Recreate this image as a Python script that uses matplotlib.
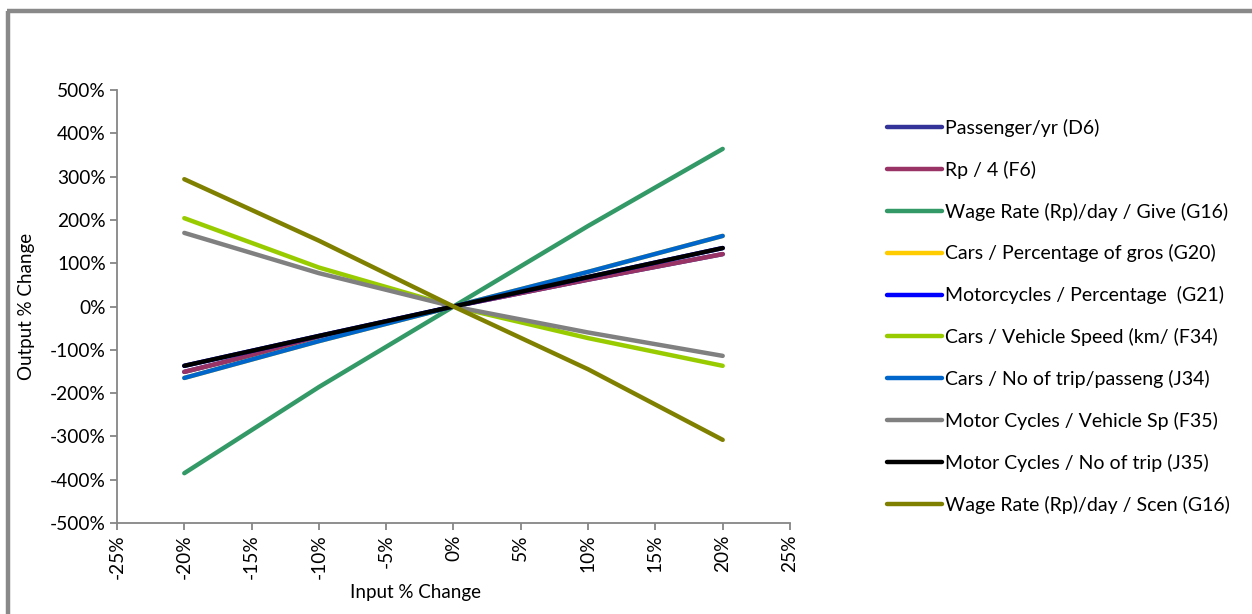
import matplotlib
matplotlib.use("Agg")
import matplotlib.pyplot as plt
from matplotlib.lines import Line2D
from matplotlib.ticker import FuncFormatter, MultipleLocator

# Input change (%) at which each output was evaluated
input_change = [-20, -10, 0, 10, 20]

# Output change (%) per tested parameter
passenger_yr = [-151, -74, 0, 62, 121]
rp_4 = [-151, -74, 0, 62, 121]
wage_give = [-385, -186, 0, 186, 364]
cars_pct_gros = [-165, -80, 0, 80, 163]
moto_pct = [-137, -68, 0, 68, 135]
cars_speed = [204, 90, 0, -73, -137]
cars_trips = [-165, -80, 0, 80, 163]
moto_speed = [170, 77, 0, -60, -114]
moto_trips = [-137, -68, 0, 68, 135]
wage_scen = [294, 152, 0, -145, -308]

labels = [
    "Passenger/yr (D6)",
    "Rp / 4 (F6)",
    "Wage Rate (Rp)/day / Give (G16)",
    "Cars / Percentage of gros (G20)",
    "Motorcycles / Percentage  (G21)",
    "Cars / Vehicle Speed (km/ (F34)",
    "Cars / No of trip/passeng (J34)",
    "Motor Cycles / Vehicle Sp (F35)",
    "Motor Cycles / No of trip (J35)",
    "Wage Rate (Rp)/day / Scen (G16)",
]
series = [passenger_yr, rp_4, wage_give, cars_pct_gros, moto_pct,
          cars_speed, cars_trips, moto_speed, moto_trips, wage_scen]
colors = ["#333399", "#993366", "#339966", "#FFCC00", "#0000FF",
          "#99CC00", "#0066CC", "#808080", "#000000", "#808000"]

plt.rcParams["font.family"] = ["Lato", "DejaVu Sans"]

fig = plt.figure(figsize=(12.52, 6.14), dpi=100)
ax = fig.add_axes([117 / 1252, 1 - 523 / 614, (790 - 117) / 1252, (523 - 90) / 614])

handles = []
for vals, col, lab in zip(series, colors, labels):
    ln, = ax.plot(input_change, vals, color=col, lw=3.2, label=lab,
                  solid_capstyle="round", solid_joinstyle="round")
    handles.append(ln)

ax.set_xlim(-25, 25)
ax.set_ylim(-500, 500)
ax.xaxis.set_major_locator(MultipleLocator(5))
ax.yaxis.set_major_locator(MultipleLocator(100))
pct = FuncFormatter(lambda v, _: f"{v:.0f}%")
ax.xaxis.set_major_formatter(pct)
ax.yaxis.set_major_formatter(pct)

for side in ("top", "right"):
    ax.spines[side].set_visible(False)
for side in ("left", "bottom"):
    ax.spines[side].set_color("#868686")
    ax.spines[side].set_linewidth(1.3)
ax.tick_params(axis="both", colors="#868686", labelcolor="black",
               length=5, width=1.3, labelsize=13.8)
ax.tick_params(axis="x", labelrotation=90, pad=3)
ax.tick_params(axis="y", pad=3)

ax.set_xlabel("Input % Change", fontsize=13.5, labelpad=4)
ax.set_ylabel("Output % Change", fontsize=13.5, labelpad=11)
ax.xaxis.label.set_x((416 - 117) / 673)

leg = fig.legend(handles=handles, loc="upper left",
                 bbox_to_anchor=(879 / 1252, 1 - 111 / 614),
                 frameon=False, fontsize=14, handlelength=2.85,
                 handletextpad=0.15, labelspacing=1.225, borderaxespad=0)

# Chart-area frame (top and left edges)
fig.add_artist(Line2D([8 / 1252, 8 / 1252], [0, 1 - 10.5 / 614],
                      transform=fig.transFigure, color="#898989", lw=3.2,
                      solid_capstyle="butt"))
fig.add_artist(Line2D([6.5 / 1252, 1], [1 - 10.5 / 614, 1 - 10.5 / 614],
                      transform=fig.transFigure, color="#898989", lw=3.2,
                      solid_capstyle="butt"))

fig.savefig("out.png", dpi=100)
